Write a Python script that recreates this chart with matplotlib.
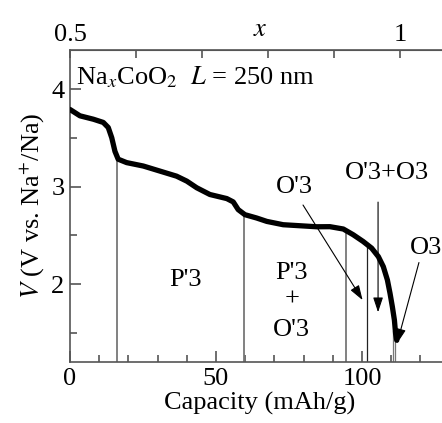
import numpy as np
import matplotlib
matplotlib.use("Agg")
import matplotlib.pyplot as plt

plt.rcParams['font.family'] = ['Liberation Serif', 'DejaVu Serif']
plt.rcParams['mathtext.fontset'] = 'stix'

# Discharge curve: capacity (mAh/g) vs voltage (V)
capacity = [0, 3.4, 8.0, 11.4, 13.1, 14.3, 15.4, 16.5, 19.4, 25.1, 30.8, 36.5, 40.0,
            43.4, 47.9, 53.7, 55.9, 57.6, 59.9, 63.9, 67.4, 73.0, 84.5, 89.0, 93.6,
            97.0, 100.4, 103.3, 105.6, 107.3, 108.7, 109.6, 110.4, 111.1, 111.5, 111.9]
voltage = [3.79, 3.725, 3.69, 3.657, 3.605, 3.50, 3.36, 3.28, 3.245, 3.21, 3.158, 3.106, 3.055,
           2.987, 2.918, 2.876, 2.842, 2.763, 2.711, 2.677, 2.642, 2.608, 2.587, 2.588, 2.564,
           2.505, 2.436, 2.368, 2.281, 2.178, 2.041, 1.904, 1.766, 1.629, 1.492, 1.423]

# phase boundaries (capacity)
boundaries_gray = [16.1, 59.7, 94.5]
boundary_black = [101.7]
end_lines = [110.5, 111.3]

x_top_ticks = [0.5, 0.6, 0.7, 0.8, 0.9, 1.0]
cap_full = 113.0  # capacity at x = 1

fig = plt.figure(figsize=(4.42, 4.23), dpi=100)
ax = fig.add_axes([70/442, 61/423, 130*2.92/442, 312/423])
ax.set_xlim(0, 130)
ax.set_ylim(1.2, 4.4)

cap = np.array(capacity)
volt = np.array(voltage)
ax.plot(cap, volt, color='black', lw=3.8, solid_capstyle='round', solid_joinstyle='round', zorder=5)

for c in boundaries_gray:
    ax.plot([c, c], [1.2, np.interp(c, cap, volt)], color='#777777', lw=1.3, zorder=2)
for c in boundary_black:
    ax.plot([c, c], [1.2, np.interp(c, cap, volt)], color='#222222', lw=0.9, zorder=2)
for c in end_lines:
    ax.plot([c, c], [1.2, 1.52], color='#777777', lw=0.9, zorder=2)

fs = 19
arrow = dict(arrowstyle='-|>,head_length=0.9,head_width=0.3', color='black', lw=0.8,
             shrinkA=0, shrinkB=0)
ax.annotate('', xy=(100.2, 1.835), xytext=(79.8, 2.81), arrowprops=arrow)
ax.annotate('', xy=(105.5, 1.71), xytext=(105.5, 2.84), arrowprops=arrow)
ax.annotate('', xy=(112.0, 1.39), xytext=(119.5, 2.22), arrowprops=arrow)

ax.text(77, 3.0, "O'3", fontsize=fs, ha='center', va='center')
ax.text(108.5, 3.14, "O'3+O3", fontsize=fs, ha='center', va='center')
ax.text(121.8, 2.37, "O3", fontsize=fs, ha='center', va='center')
ax.text(39.7, 2.04, "P'3", fontsize=fs, ha='center', va='center')
ax.text(75.9, 2.11, "P'3", fontsize=fs, ha='center', va='center')
ax.text(75.9, 1.84, "+", fontsize=fs, ha='center', va='center')
ax.text(75.9, 1.53, "O'3", fontsize=fs, ha='center', va='center')
ax.text(2.0, 4.12, r"Na$_x$CoO$_2$  $L$ = 250 nm", fontsize=fs, ha='left', va='center')

spine_c = '#555555'
for s in ['left', 'bottom', 'top']:
    ax.spines[s].set_color(spine_c)
    ax.spines[s].set_linewidth(1.2)
ax.spines['right'].set_visible(False)

ax.set_xticks([0, 50, 100])
ax.set_xticks(np.arange(0, 131, 10), minor=True)
ax.set_yticks([2, 3, 4])
ax.set_yticks([1.5, 2.5, 3.5], minor=True)
ax.tick_params(which='both', direction='in', color=spine_c, labelsize=fs, width=1.2)
ax.tick_params(which='major', length=8, pad=4)
ax.tick_params(which='minor', length=5)
ax.tick_params(axis='x', which='both', top=False)

ax.set_xlabel('Capacity (mAh/g)', fontsize=fs, labelpad=2)
ax.set_ylabel(r'$V$ (V vs. Na$^{+}$/Na)', fontsize=fs, labelpad=4)

sec = ax.secondary_xaxis('top', functions=(lambda c: 0.5 + np.asarray(c) * 0.5 / cap_full,
                                           lambda x: (np.asarray(x) - 0.5) * cap_full / 0.5))
sec.set_xticks(x_top_ticks)
sec.set_xticklabels(['0.5', '', '', '', '', '1'])
sec.tick_params(direction='in', color=spine_c, labelsize=fs, length=6, width=1.2, pad=3)
sec.spines['top'].set_color(spine_c)
sec.set_xlabel('$x$', fontsize=fs, labelpad=-9)

fig.savefig('out.png', dpi=100)
